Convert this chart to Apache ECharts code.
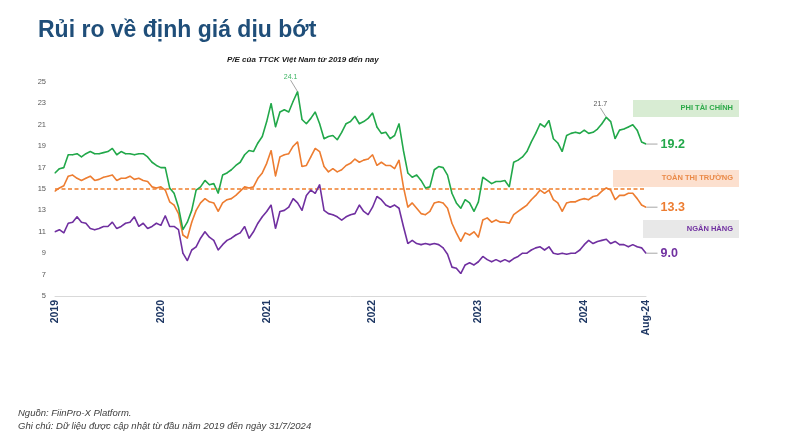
<!DOCTYPE html>
<html><head><meta charset="utf-8">
<script src="https://cdn.jsdelivr.net/npm/echarts@6/dist/echarts.min.js"></script>
<style>html,body{margin:0;padding:0;background:#fff}#c{width:800px;height:433px}</style>
</head><body><div id="c"></div>
<script>
// Semi-monthly observation dates
const dates = [
"2019-01-01","2019-01-16","2019-02-01","2019-02-16","2019-03-01","2019-03-16","2019-04-01","2019-04-16","2019-05-01","2019-05-16","2019-06-01","2019-06-16","2019-07-01","2019-07-16","2019-08-01","2019-08-16","2019-09-01","2019-09-16","2019-10-01","2019-10-16","2019-11-01","2019-11-16","2019-12-01","2019-12-16",
"2020-01-01","2020-01-16","2020-02-01","2020-02-16","2020-03-01","2020-03-16","2020-04-01","2020-04-16","2020-05-01","2020-05-16","2020-06-01","2020-06-16","2020-07-01","2020-07-16","2020-08-01","2020-08-16","2020-09-01","2020-09-16","2020-10-01","2020-10-16","2020-11-01","2020-11-16","2020-12-01","2020-12-16",
"2021-01-01","2021-01-16","2021-02-01","2021-02-16","2021-03-01","2021-03-16","2021-04-01","2021-04-16","2021-05-01","2021-05-16","2021-06-01","2021-06-16","2021-07-01","2021-07-16","2021-08-01","2021-08-16","2021-09-01","2021-09-16","2021-10-01","2021-10-16","2021-11-01","2021-11-16","2021-12-01","2021-12-16",
"2022-01-01","2022-01-16","2022-02-01","2022-02-16","2022-03-01","2022-03-16","2022-04-01","2022-04-16","2022-05-01","2022-05-16","2022-06-01","2022-06-16","2022-07-01","2022-07-16","2022-08-01","2022-08-16","2022-09-01","2022-09-16","2022-10-01","2022-10-16","2022-11-01","2022-11-16","2022-12-01","2022-12-16",
"2023-01-01","2023-01-16","2023-02-01","2023-02-16","2023-03-01","2023-03-16","2023-04-01","2023-04-16","2023-05-01","2023-05-16","2023-06-01","2023-06-16","2023-07-01","2023-07-16","2023-08-01","2023-08-16","2023-09-01","2023-09-16","2023-10-01","2023-10-16","2023-11-01","2023-11-16","2023-12-01","2023-12-16",
"2024-01-01","2024-01-16","2024-02-01","2024-02-16","2024-03-01","2024-03-16","2024-04-01","2024-04-16","2024-05-01","2024-05-16","2024-06-01","2024-06-16","2024-07-01","2024-07-16","2024-08-01"
];
// P/E Phi tài chính
const nonFinancial = [
16.5,16.9,17.0,18.2,18.2,18.3,18.0,18.3,18.5,18.3,18.3,18.4,18.5,18.8,18.2,18.5,18.3,18.3,18.2,18.3,18.3,18.0,17.5,17.2,
17.0,17.0,15.1,14.6,13.3,11.2,11.9,13.0,14.9,15.2,15.8,15.4,15.5,14.6,16.3,16.5,16.8,17.2,17.5,18.2,18.6,18.5,19.3,19.9,
21.3,23.0,20.8,22.2,22.4,22.2,23.2,24.1,21.5,21.1,21.6,22.2,21.1,19.7,19.9,20.0,19.6,20.3,21.1,21.3,21.8,21.1,21.3,21.6,
22.1,20.8,20.2,20.3,19.7,20.0,21.1,18.6,16.5,16.1,16.3,15.8,15.1,15.2,16.8,17.1,17.0,16.3,14.6,13.7,13.2,14.0,13.7,12.9,
13.8,16.1,15.8,15.5,15.7,15.7,15.8,15.2,17.5,17.7,18.0,18.5,19.4,20.2,21.1,20.8,21.4,19.7,19.3,18.5,20.0,20.2,20.3,20.2,
20.5,20.2,20.3,20.6,21.1,21.7,21.3,19.7,20.5,20.6,20.8,21.0,20.5,19.4,19.2
];
// P/E Toàn thị trường
const wholeMarket = [
14.8,15.1,15.3,16.2,16.3,16.0,15.8,16.0,16.2,15.8,15.9,16.1,16.2,16.3,15.8,16.0,16.0,16.2,15.9,16.0,15.8,15.7,15.2,15.1,
15.2,14.9,13.8,13.5,12.7,10.7,10.4,11.9,13.0,13.7,14.1,13.8,13.7,12.9,13.7,14.0,14.1,14.4,14.8,15.2,15.1,15.2,16.0,16.5,
17.4,18.6,16.2,18.0,18.2,18.3,19.0,19.4,17.1,17.2,18.0,18.8,18.5,17.1,16.6,16.9,16.6,16.8,17.2,17.4,17.8,17.5,17.7,17.8,
18.2,17.2,17.5,17.2,17.2,16.9,17.7,15.2,13.3,13.7,13.2,12.7,12.6,12.9,13.7,13.8,13.7,13.2,11.8,10.9,10.1,10.9,10.7,11.0,
10.5,12.1,12.3,11.9,12.1,11.9,11.9,11.8,12.6,12.9,13.2,13.5,14.0,14.4,14.9,14.6,14.9,14.0,13.7,12.9,13.7,13.8,13.8,14.0,
14.1,14.0,14.3,14.4,14.8,15.1,14.9,14.0,14.4,14.4,14.6,14.6,14.1,13.5,13.3
];
// P/E Ngân hàng
const banks = [
11.0,11.2,10.9,11.8,11.9,12.4,11.9,11.8,11.3,11.2,11.3,11.5,11.5,11.9,11.3,11.5,11.8,11.9,12.4,11.5,11.8,11.3,11.5,11.8,
11.6,12.5,11.5,11.5,11.2,9.0,8.3,9.3,9.6,10.4,11.0,10.5,10.2,9.3,9.8,10.2,10.4,10.7,10.9,11.5,10.4,11.0,11.8,12.4,
12.9,13.5,11.3,12.9,13.0,13.3,14.1,13.7,13.0,14.4,14.9,14.6,15.4,13.0,12.7,12.6,12.4,12.1,12.4,12.6,12.7,13.5,12.9,12.6,
13.3,14.3,14.0,13.5,13.3,13.5,13.2,11.5,9.9,10.2,9.9,9.8,9.9,9.8,9.9,9.8,9.5,8.9,7.7,7.6,7.1,7.9,8.1,7.9,
8.2,8.7,8.4,8.2,8.4,8.2,8.4,8.2,8.5,8.7,9.0,9.0,9.3,9.5,9.6,9.3,9.6,9.0,8.9,9.0,8.9,9.0,9.0,9.3,
9.8,10.2,9.9,10.1,10.2,10.3,9.9,10.1,9.8,9.8,9.6,9.8,9.6,9.5,9.0
];
const tickDates  = ["2019-01-01","2020-01-01","2021-01-01","2022-01-01","2023-01-01","2024-01-01","2024-08-01"];
const tickLabels = ["2019","2020","2021","2022","2023","2024","Aug-24"];
const avgLine = 15;
const peakNonFinDate = "2021-04-16";   // 24.1
const peak2024Date = "2024-03-16";     // 21.7
const seriesNames = ["PHI TÀI CHÍNH","TOÀN THỊ TRƯỜNG","NGÂN HÀNG"];

const GREEN = '#22a84a', ORANGE = '#ed7d31', PURPLE = '#7030a0';
const FONT = '"Liberation Sans", Arial, sans-serif';
const last = dates.length - 1;

function endLabel(color, val) {
  return {
    show: true, position: 'right', distance: 0,
    formatter: '{ln|}{v|' + val.toFixed(1) + '}',
    rich: {
      ln: {width: 11, height: 1, backgroundColor: '#a6a6a6'},
      v: {color: color, fontSize: 12.5, fontWeight: 'bold', fontFamily: FONT, padding: [0,0,0,3]}
    }
  };
}
function buildData(values, color, annotations) {
  return values.map((v, i) => {
    if (i === last) return {value: v, label: endLabel(color, v)};
    const a = annotations.find(x => x.date === dates[i]);
    if (a) return {value: v, label: {show: true, position: 'top', distance: 8, formatter: String(v), color: a.color, fontSize: 7, fontFamily: FONT},
                   labelLine: {show: true, lineStyle: {color: '#8c8c8c', width: 0.8}}};
    return v;
  });
}
function lineSeries(name, values, color, z, annotations) {
  return {name: name, type: 'line', z: z,
    symbol: 'circle', symbolSize: 1, showSymbol: true, showAllSymbol: true,
    itemStyle: {color: color},
    lineStyle: {color: color, width: 1.6},
    label: {show: false},
    data: buildData(values, color, annotations)};
}

const s0 = lineSeries(seriesNames[0], nonFinancial, GREEN, 4,
  [{date: peakNonFinDate, color: '#3cb563'}, {date: peak2024Date, color: '#595959'}]);
s0.labelLayout = (p) => {
  const d = dates[p.dataIndex];
  if (d === peakNonFinDate) return {dx: -7, dy: -3};
  if (d === peak2024Date) return {dx: -6, dy: -1};
  return {};
};
const s1 = lineSeries(seriesNames[1], wholeMarket, ORANGE, 3, []);
const s2 = lineSeries(seriesNames[2], banks, PURPLE, 2, []);

const boxes = [
  {type: 'rect', id: 'b0', left: 633, top: 100, shape: {width: 106, height: 17}, style: {fill: '#d8ecd3'}},
  {type: 'text', id: 't0', right: 67, top: 104, style: {text: seriesNames[0], fill: '#2eaa4a', font: 'bold 7.5px ' + FONT}},
  {type: 'rect', id: 'b1', left: 613, top: 170, shape: {width: 126, height: 17}, style: {fill: '#fce0cf'}},
  {type: 'text', id: 't1', right: 67, top: 174, style: {text: seriesNames[1], fill: '#ea8a48', font: 'bold 7.5px ' + FONT}},
  {type: 'rect', id: 'b2', left: 643, top: 220, shape: {width: 96, height: 18}, style: {fill: '#e8e8e8'}},
  {type: 'text', id: 't2', right: 67, top: 225, style: {text: seriesNames[2], fill: '#7030a0', font: 'bold 7.5px ' + FONT}}
];

const chart = echarts.init(document.getElementById('c'), null, {renderer: 'canvas'});
chart.setOption({
  animation: false,
  backgroundColor: '#ffffff',
  title: [
    {text: 'Rủi ro về định giá dịu bớt', left: 33, top: 14,
     textStyle: {fontSize: 23, fontWeight: 'bold', color: '#1f4e79', fontFamily: FONT}},
    {text: 'P/E của TTCK Việt Nam từ 2019 đến nay', left: 222, top: 51,
     textStyle: {fontSize: 8, fontWeight: 'bold', fontStyle: 'italic', color: '#1a1a1a', fontFamily: FONT}},
    {text: 'Nguồn: FiinPro-X Platform.', left: 13, top: 403,
     textStyle: {fontSize: 9.5, fontWeight: 'normal', fontStyle: 'italic', color: '#404040', fontFamily: FONT}},
    {text: 'Ghi chú: Dữ liệu được cập nhật từ đầu năm 2019 đến ngày 31/7/2024', left: 13, top: 416,
     textStyle: {fontSize: 9.5, fontWeight: 'normal', fontStyle: 'italic', color: '#404040', fontFamily: FONT}}
  ],
  grid: {left: 55, right: 154, top: 82, bottom: 137, containLabel: false},
  xAxis: {
    type: 'category', data: dates, boundaryGap: false,
    axisLine: {show: true, lineStyle: {color: '#d9d9d9', width: 1}},
    axisTick: {show: false},
    splitLine: {show: false},
    axisLabel: {
      rotate: 90, margin: 4, color: '#1f3864', fontWeight: 'bold', fontSize: 10.5, fontFamily: FONT,
      interval: (idx, val) => tickDates.includes(val),
      formatter: (val) => { const k = tickDates.indexOf(val); return k >= 0 ? tickLabels[k] : ''; }
    }
  },
  yAxis: {
    type: 'value', min: 5, max: 25, interval: 2,
    axisLine: {show: false}, axisTick: {show: false}, splitLine: {show: false},
    axisLabel: {color: '#595959', fontSize: 7.5, margin: 9, fontFamily: FONT}
  },
  series: [s0, s1, s2],
  graphic: boxes
});

// Dashed reference line at P/E = 15, positioned through the axis scales
const pA = chart.convertToPixel({gridIndex: 0}, [0, avgLine]);
const pB = chart.convertToPixel({gridIndex: 0}, [last, avgLine]);
chart.setOption({
  graphic: boxes.concat([{
    type: 'line', id: 'avg', z: -10, silent: true,
    shape: {x1: pA[0], y1: Math.round(pA[1]), x2: pB[0], y2: Math.round(pB[1])},
    style: {stroke: '#f07f2c', lineWidth: 1.5, lineDash: [4, 2.5]}
  }])
});
</script>
</body></html>
